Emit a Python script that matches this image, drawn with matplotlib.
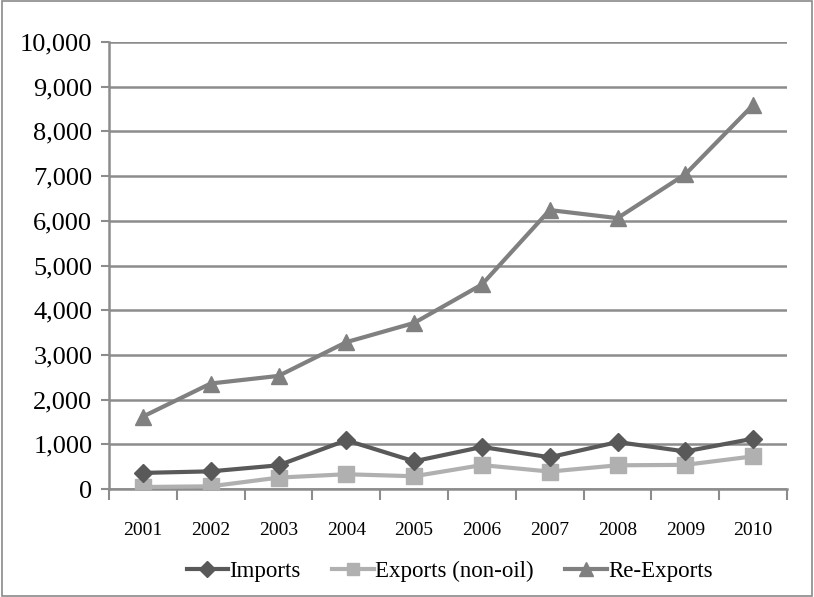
import numpy as np
import matplotlib
matplotlib.use("Agg")
import matplotlib.pyplot as plt
from matplotlib.ticker import FuncFormatter, MultipleLocator, FixedLocator
from matplotlib.patches import Rectangle

plt.rcParams['font.family'] = ['Liberation Serif', 'DejaVu Serif']

# trade figures by year
years = ['2001', '2002', '2003', '2004', '2005', '2006', '2007', '2008', '2009', '2010']
imports = [360, 395, 530, 1090, 620, 940, 710, 1050, 840, 1125]
exports_non_oil = [45, 60, 255, 330, 285, 535, 390, 530, 540, 730]
re_exports = [1620, 2360, 2530, 3285, 3715, 4575, 6240, 6060, 7040, 8590]

fig = plt.figure(figsize=(8.14, 5.97), dpi=100)
ax = fig.add_axes([109 / 814, 1 - 489 / 597, (787 - 109) / 814, (489 - 42) / 597])

# outer frame of the chart area
fig.patches.append(Rectangle((0.002, 0.002), 0.996, 0.996, transform=fig.transFigure,
                             fill=False, edgecolor='#8a8a8a', linewidth=1.2))

x = np.arange(len(years))
lw = 3.0
ax.plot(x, imports, color='#595959', lw=lw, marker='D', ms=9, label='Imports', zorder=4)
ax.plot(x, exports_non_oil, color='#b0b0b0', lw=lw, marker='s', ms=11, label='Exports (non-oil)', zorder=3)
ax.plot(x, re_exports, color='#808080', lw=lw, marker='^', ms=12, label='Re-Exports', zorder=3)

ax.set_ylim(0, 10000)
ax.set_xlim(-0.5, len(years) - 0.5)
ax.yaxis.set_major_locator(MultipleLocator(1000))
ax.yaxis.set_major_formatter(FuncFormatter(lambda v, p: f'{int(v):,}'))
ax.grid(axis='y', color='#8c8c8c', lw=1.8)
ax.set_axisbelow(True)

# category labels centred, tick marks on the boundaries
ax.set_xticks(x)
ax.set_xticklabels(years)
ax.xaxis.set_minor_locator(FixedLocator(np.arange(-0.5, len(years), 1)))
ax.tick_params(axis='x', which='major', length=0, labelsize=14, pad=24)
ax.tick_params(axis='x', which='minor', length=8, width=1.5, color='#8c8c8c')
ax.tick_params(axis='y', length=6, width=1.5, color='#8c8c8c', labelsize=19, pad=6)

for side in ['top', 'right']:
    ax.spines[side].set_visible(False)
for side in ['left', 'bottom']:
    ax.spines[side].set_color('#8c8c8c')
    ax.spines[side].set_linewidth(1.8)

leg = fig.legend(loc='center', bbox_to_anchor=(449.5 / 814, 1 - 571 / 597), ncol=3, frameon=False,
                 fontsize=16.5, handlelength=1.8, handletextpad=0.05, columnspacing=1.4,
                 markerscale=0.85)

fig.savefig('out.png', dpi=100)
